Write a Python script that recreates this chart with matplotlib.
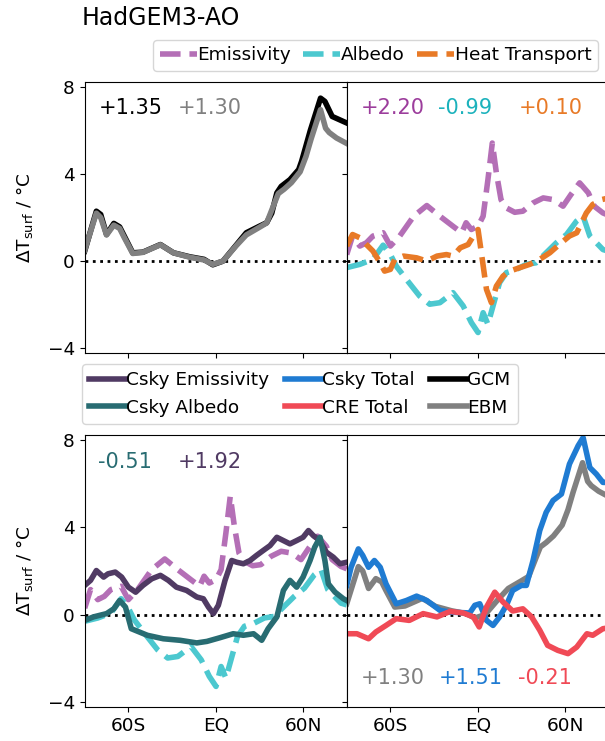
import matplotlib
matplotlib.use("Agg")
import matplotlib.pyplot as plt

# zonal-mean surface warming, GCM vs EBM and its feedback decomposition
gcm_lat = [-90, -82, -79, -75, -70, -66, -57, -50, -38, -29, -18, -8, -2, 5, 14, 21,
           30, 35, 38.5, 42, 45, 51, 57, 59, 65, 72, 75, 80, 90]
gcm_val = [0.46, 2.29, 2.14, 1.22, 1.73, 1.57, 0.38, 0.41, 0.76, 0.38, 0.2, 0.08, -0.17, 0.0, 0.73, 1.3,
           1.6, 1.76, 2.2, 3.13, 3.43, 3.74, 4.2, 4.58, 6.0, 7.48, 7.33, 6.64, 6.34]

ebm_lat = [-90, -82, -79, -75, -70, -66, -63, -57, -50, -38, -29, -18, -8, -2, 5, 14, 21,
           30, 35, 40, 43, 47, 52, 58, 62, 65.5, 72, 75.5, 78, 83, 90]
ebm_val = [0.5, 2.2, 2.0, 1.2, 1.65, 1.5, 1.1, 0.35, 0.4, 0.75, 0.38, 0.18, 0.05, -0.15, 0.0, 0.7, 1.2,
           1.55, 1.75, 2.6, 3.1, 3.3, 3.6, 4.1, 4.8, 5.6, 6.95, 6.1, 5.9, 5.65, 5.4]

emis_lat = [-90, -86, -81, -76.5, -72, -65, -60, -53.6, -44, -35, -26, -17, -11, -8, -4.4, 0.2,
            3.7, 7, 10, 12.8, 16, 19.7, 25.4, 31, 38, 45, 52, 58.6, 64, 70, 76, 80, 86, 90]
emis_val = [0.3, 1.15, 0.69, 0.84, 1.15, 1.3, 0.69, 1.15, 2.06, 2.55, 2.06, 1.6, 1.3, 1.76, 1.45, 1.6,
            2.06, 3.74, 5.42, 4.05, 2.82, 2.44, 2.24, 2.29, 2.67, 2.9, 2.82, 2.52, 3.05, 3.59, 3.13, 2.52, 2.21, 2.1]

albedo_lat = [-90, -81, -72, -65, -60, -56, -49, -40, -33, -26, -17, -10, -4.4, 0.2, 3.7, 7, 10.5,
              15, 19.7, 26.6, 33.4, 40, 47, 54, 61, 67.8, 72.4, 77, 81.5, 86, 90]
albedo_val = [-0.3, -0.15, 0.08, 0.73, 0.3, -0.23, -0.84, -1.6, -1.98, -1.91, -1.45, -2.06, -2.82, -3.28, -2.37, -2.9, -2.06,
              -0.99, -0.53, -0.38, -0.15, -0.08, 0.38, 0.84, 1.22, 1.83, 2.06, 1.15, 0.84, 0.53, 0.45]

heat_lat = [-90, -86, -81, -76.5, -72, -67, -64, -60, -57, -51, -42, -35, -28, -21.5, -17, -12, -6.6,
            -3, 0.2, 2.5, 6, 9.4, 12.8, 17.4, 22, 29, 35.7, 42.6, 49.5, 56, 63, 68, 74.6, 79, 85, 90]
heat_val = [0.69, 1.22, 1.07, 0.76, 0.46, -0.08, -0.46, -0.38, 0.08, 0.23, 0.15, 0.0, 0.23, 0.3, 0.23, 0.61, 0.76,
            1.15, 1.45, 0.38, -1.3, -1.91, -1.15, -0.69, -0.46, -0.3, -0.15, 0.08, 0.38, 0.76, 1.15, 1.3, 2.21, 2.6, 2.82, 2.9]

csky_emis_lat = [-90, -86, -82, -77, -74, -69, -64.6, -60, -55, -50, -44, -38, -32.5, -27, -20, -13, -8.5,
                 -5, -1.6, 1.8, 6.4, 11, 14.4, 19, 23.6, 28, 32.7, 37.3, 42, 46.5, 51, 55.6, 60, 63.7, 67,
                 71.7, 76, 80.8, 85.4, 90]
csky_emis_val = [1.34, 1.57, 2.02, 1.72, 1.87, 1.95, 1.72, 1.26, 1.03, 1.34, 1.64, 1.8, 1.57, 1.26, 1.11, 0.81, 0.73,
                 0.35, 0.05, 0.43, 1.57, 2.48, 2.4, 2.33, 2.48, 2.71, 2.94, 3.16, 3.54, 3.39, 3.24, 3.39, 3.54, 3.85, 3.62,
                 3.39, 2.86, 2.63, 2.33, 2.4]

csky_alb_lat = [-90, -84, -75, -70, -66, -62, -58, -47, -36, -24.5, -13, -6, 3, 12, 19, 26, 31.6, 36,
                42, 46.5, 51, 55.6, 60, 64.8, 68, 71.7, 75, 77.4, 82, 87.7, 90]
csky_alb_val = [-0.26, -0.1, 0.05, 0.27, 0.65, 0.35, -0.64, -0.94, -1.1, -1.17, -1.29, -1.22, -1.05, -0.87, -0.94, -0.87, -1.17, -0.64,
                -0.1, 1.11, 1.57, 1.26, 1.72, 2.48, 3.09, 3.54, 2.48, 1.41, 1.03, 0.73, 0.65]

csky_tot_lat = [-90, -87, -82, -79, -75, -71, -67, -63, -56, -49, -42, -35, -26, -19, -5.5, -2, 1.4, 6,
                10.5, 15, 19.7, 24, 30, 33.4, 38, 42.6, 47, 51.7, 57.5, 63, 69, 72.4, 77, 81.5, 86, 90]
csky_tot_val = [1.34, 2.17, 3.01, 2.71, 2.17, 2.48, 2.17, 1.41, 0.5, 0.65, 0.85, 0.65, 0.2, 0.12, 0.08, 0.43, 0.5, -0.26,
                -0.49, -0.1, 0.43, 1.11, 1.34, 1.34, 2.48, 3.85, 4.68, 5.22, 5.52, 6.89, 7.73, 8.1, 6.73, 6.43, 6.05, 6.05]

cre_lat = [-90, -83, -75, -70, -63, -56, -47, -37.5, -28, -19, -10, -3, 1, 6, 11.7, 17.4, 24, 31, 37,
           42.6, 48, 55, 62, 68, 75, 79, 86, 90]
cre_val = [-0.87, -0.87, -1.1, -0.79, -0.49, -0.18, -0.26, 0.05, -0.1, 0.15, 0.08, -0.1, -0.56, 0.35, 1.03, 0.58, 0.17, 0.27, -0.1,
           -0.71, -1.4, -1.63, -1.78, -1.48, -0.87, -0.94, -0.64, -0.6]

xticks = [-60, 0, 60]
xticklabels = ["60S", "EQ", "60N"]
yticks = [-4, 0, 4, 8]

c_emis = "#b46fb6"
c_alb = "#4cc8cf"
c_heat = "#e87a27"
c_csky_emis = "#503a63"
c_csky_alb = "#286c72"
c_csky_tot = "#1f7bd2"
c_cre = "#f04a56"
c_ebm = "#808080"

FS = 13.3
LW = 4
plt.rcParams["font.size"] = FS

fig = plt.figure(figsize=(6.05, 7.41), dpi=100)
L, W = 0.140, 0.4331
ax_tl = fig.add_axes([L, 0.5236, W, 0.3657])
ax_tr = fig.add_axes([L + W, 0.5236, W, 0.3657])
ax_bl = fig.add_axes([L, 0.0459, W, 0.3671])
ax_br = fig.add_axes([L + W, 0.0459, W, 0.3671])

for ax in (ax_tl, ax_tr, ax_bl, ax_br):
    ax.axhline(0, color="k", ls=":", lw=2, zorder=1)
    ax.set_xlim(-90, 90)
    ax.set_ylim(-4.22, 8.22)
    ax.set_xticks(xticks)
    ax.set_yticks(yticks)
    ax.tick_params(labelsize=FS)

# GCM vs EBM
ax_tl.plot(gcm_lat, gcm_val, color="k", lw=LW)
ax_tl.plot(ebm_lat, ebm_val, color=c_ebm, lw=LW)
ax_tl.text(0.055, 0.905, "+1.35", transform=ax_tl.transAxes, color="k", fontsize=15, va="center")
ax_tl.text(0.355, 0.905, "+1.30", transform=ax_tl.transAxes, color=c_ebm, fontsize=15, va="center")

# all-sky feedbacks
h_emis, = ax_tr.plot(emis_lat, emis_val, color=c_emis, lw=LW, ls="--", label="Emissivity")
h_alb, = ax_tr.plot(albedo_lat, albedo_val, color=c_alb, lw=LW, ls="--", label="Albedo")
h_heat, = ax_tr.plot(heat_lat, heat_val, color=c_heat, lw=LW, ls="--", label="Heat Transport")
ax_tr.text(0.055, 0.905, "+2.20", transform=ax_tr.transAxes, color="#9c3d9c", fontsize=15, va="center")
ax_tr.text(0.35, 0.905, "-0.99", transform=ax_tr.transAxes, color="#1cb2bc", fontsize=15, va="center")
ax_tr.text(0.655, 0.905, "+0.10", transform=ax_tr.transAxes, color=c_heat, fontsize=15, va="center")

# clear-sky feedbacks
ax_bl.plot(emis_lat, emis_val, color=c_emis, lw=LW, ls="--")
ax_bl.plot(albedo_lat, albedo_val, color=c_alb, lw=LW, ls="--")
h_cse, = ax_bl.plot(csky_emis_lat, csky_emis_val, color=c_csky_emis, lw=LW, label="Csky Emissivity")
h_csa, = ax_bl.plot(csky_alb_lat, csky_alb_val, color=c_csky_alb, lw=LW, label="Csky Albedo")
ax_bl.text(0.05, 0.9, "-0.51", transform=ax_bl.transAxes, color=c_csky_alb, fontsize=15, va="center")
ax_bl.text(0.355, 0.9, "+1.92", transform=ax_bl.transAxes, color=c_csky_emis, fontsize=15, va="center")

# clear-sky total vs cloud effect
ax_br.plot(ebm_lat, ebm_val, color=c_ebm, lw=LW)
h_cst, = ax_br.plot(csky_tot_lat, csky_tot_val, color=c_csky_tot, lw=LW, label="Csky Total")
h_cre, = ax_br.plot(cre_lat, cre_val, color=c_cre, lw=LW, label="CRE Total")
ax_br.text(0.055, 0.107, "+1.30", transform=ax_br.transAxes, color=c_ebm, fontsize=15, va="center")
ax_br.text(0.35, 0.107, "+1.51", transform=ax_br.transAxes, color=c_csky_tot, fontsize=15, va="center")
ax_br.text(0.652, 0.107, "-0.21", transform=ax_br.transAxes, color=c_cre, fontsize=15, va="center")

for ax in (ax_tl, ax_tr):
    ax.tick_params(labelbottom=False)
for ax in (ax_tr, ax_br):
    ax.tick_params(labelleft=False)
for ax in (ax_bl, ax_br):
    ax.set_xticklabels(xticklabels)
for ax in (ax_tl, ax_bl):
    ax.set_ylabel(r"$\mathrm{\Delta T_{surf}}$ / °C", fontsize=FS, labelpad=9)

fig.text(82 / 605, 1 - 18 / 741, "HadGEM3-AO", fontsize=17, va="center")

fig.legend(handles=[h_emis, h_alb, h_heat], loc="upper right", bbox_to_anchor=(598 / 605, 1 - 40 / 741),
           ncol=3, fontsize=FS, handlelength=2.0, handletextpad=0.05, columnspacing=0.65,
           borderpad=0.35, borderaxespad=0, frameon=True)

h_gcm = plt.Line2D([], [], color="k", lw=LW, label="GCM")
h_ebm = plt.Line2D([], [], color=c_ebm, lw=LW, label="EBM")
fig.legend(handles=[h_cse, h_csa, h_cst, h_cre, h_gcm, h_ebm], loc="upper left",
           bbox_to_anchor=(82 / 605, 1 - 364 / 741), ncol=3, fontsize=FS, handlelength=2.0,
           handletextpad=0.0, columnspacing=0.85, borderpad=0.4, labelspacing=0.5, borderaxespad=0)

fig.savefig("out.png", dpi=100)
